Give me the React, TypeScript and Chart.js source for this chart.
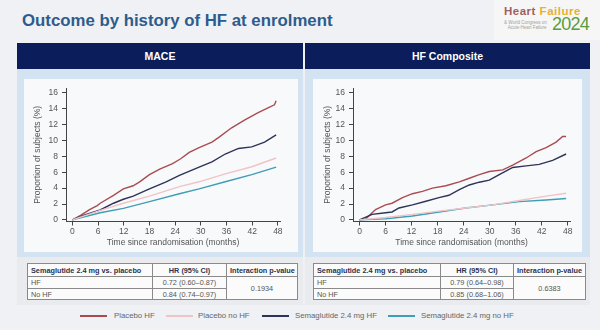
import React, { useEffect, useRef } from "react";
import { Chart, registerables } from "chart.js";

Chart.register(...registerables);

// ---------- DATA ----------
const xTicks = [0, 6, 12, 18, 24, 30, 36, 42, 48];
const yTicks = [0, 2, 4, 6, 8, 10, 12, 14, 16];

const seriesNames = ["Placebo HF", "Placebo no HF", "Semaglutide 2.4 mg HF", "Semaglutide 2.4 mg no HF"];

// MACE
const maceMonthsPlaceboHF = [0, 2, 4, 5.8, 6.5, 9.6, 11.9, 14.2, 15.7, 18, 20.4, 23.4, 25.3, 27.3, 29.6, 32.6, 34.2, 37.2, 40.3, 43.4, 45.7, 47.2, 47.6];
const macePlaceboHF = [0, 0.6, 1.3, 1.8, 2.1, 3.1, 3.9, 4.3, 4.8, 5.7, 6.4, 7.1, 7.7, 8.5, 9.1, 9.8, 10.4, 11.6, 12.6, 13.5, 14.1, 14.5, 15.0];
const maceMonthsSemaHF = [0, 2.7, 6.5, 9.6, 11.9, 14.2, 18, 21.9, 25, 29.6, 32.6, 35.7, 38.8, 41.9, 44.9, 47.6];
const maceSemaHF = [0, 0.6, 1.25, 2.1, 2.6, 3.0, 3.9, 4.8, 5.6, 6.65, 7.3, 8.3, 9.0, 9.2, 9.8, 10.7];
const maceMonthsNoHF = [0, 6.5, 11.9, 18, 25, 29.6, 35.7, 41.9, 47.6];
const macePlaceboNoHF = [0, 1.2, 2.1, 3.0, 4.2, 4.8, 5.8, 6.7, 7.8];
const maceSemaNoHF = [0, 0.9, 1.45, 2.3, 3.3, 3.9, 4.8, 5.7, 6.65];

// HF composite
const hfMonthsPlaceboHF = [0, 1.4, 3.7, 6, 7.5, 9.9, 12.2, 14.5, 16.8, 19.9, 23, 25.3, 27.6, 29.9, 33, 35.3, 38.4, 40.7, 43, 45.3, 46.8, 47.6];
const hfPlaceboHF = [0, 0.1, 1.3, 1.9, 2.1, 2.8, 3.3, 3.6, 4.0, 4.3, 4.8, 5.25, 5.7, 6.1, 6.3, 6.9, 7.8, 8.6, 9.1, 9.8, 10.5, 10.5];
const hfMonthsSemaHF = [0, 2.9, 6, 7.5, 9.1, 12.2, 15.3, 18.3, 20.6, 23, 25.3, 27.6, 29.9, 32.2, 35.3, 38.4, 41.4, 44.5, 47.6];
const hfSemaHF = [0, 0.7, 0.9, 1.0, 1.5, 1.9, 2.35, 2.8, 3.1, 3.8, 4.4, 4.75, 5.0, 5.7, 6.6, 6.8, 7.0, 7.5, 8.3];
const hfMonthsNoHF = [0, 6, 12.2, 18.3, 24.5, 30.7, 36.8, 43, 47.6];
const hfPlaceboNoHF = [0, 0.3, 0.7, 1.1, 1.5, 1.9, 2.45, 3.0, 3.35];
const hfSemaNoHF = [0, 0.15, 0.5, 1.0, 1.5, 1.9, 2.3, 2.5, 2.7];

// Tables
const tableHeaders = ["Semaglutide 2.4 mg vs. placebo", "HR (95% CI)", "Interaction p-value"];
const rowLabels = ["HF", "No HF"];
const maceHR = ["0.72 (0.60\u20130.87)", "0.84 (0.74\u20130.97)"];
const maceP = "0.1934";
const hfHR = ["0.79 (0.64\u20130.98)", "0.85 (0.68\u20131.06)"];
const hfP = "0.6383";

// ---------- STYLE ----------
const COLORS = ["#a94c52", "#efc4c6", "#2e3358", "#3f9db6"];
const FONT = "'Liberation Sans', Arial, sans-serif";

const pts = (xs: number[], ys: number[]) => xs.map((x, i) => ({ x, y: ys[i] }));

function makeConfig(
  sets: { x: number[]; y: number[] }[],
  yWidth: number,
  rightPad: number,
  yTitlePad: number
): any {
  const order = [1, 3, 2, 0];
  return {
    type: "line",
    data: {
      datasets: order.map((i) => ({
        label: seriesNames[i],
        data: pts(sets[i].x, sets[i].y),
        borderColor: COLORS[i],
        backgroundColor: COLORS[i],
        borderWidth: 1.4,
        pointRadius: 0,
        tension: 0,
        fill: false,
      })),
    },
    options: {
      animation: false,
      responsive: false,
      devicePixelRatio: 1,
      layout: { padding: { top: 7.7, right: rightPad, left: 0, bottom: 0 } },
      plugins: { legend: { display: false }, tooltip: { enabled: false } },
      scales: {
        x: {
          type: "linear",
          min: -1.5,
          max: 48.5,
          afterBuildTicks: (s: any) => {
            s.ticks = xTicks.map((v) => ({ value: v }));
          },
          afterFit: (s: any) => {
            s.height = 30.5;
          },
          grid: { display: true, drawOnChartArea: false, drawTicks: true, tickLength: 4, color: "#444" },
          border: { display: true, color: "#444", width: 1 },
          ticks: { color: "#555", font: { family: FONT, size: 8.5 }, padding: 1, maxRotation: 0 },
          title: {
            display: true,
            text: "Time since randomisation (months)",
            color: "#555",
            font: { family: FONT, size: 8.5 },
            padding: { top: 0, bottom: 4 },
          },
        },
        y: {
          type: "linear",
          min: -0.2,
          max: 16.6,
          afterBuildTicks: (s: any) => {
            s.ticks = yTicks.map((v) => ({ value: v }));
          },
          afterFit: (s: any) => {
            s.width = yWidth;
          },
          grid: { display: true, drawOnChartArea: false, drawTicks: true, tickLength: 4, color: "#444" },
          border: { display: true, color: "#444", width: 1 },
          ticks: { color: "#555", font: { family: FONT, size: 8.5 }, padding: 4 },
          title: {
            display: true,
            text: "Proportion of subjects (%)",
            color: "#555",
            font: { family: FONT, size: 8.5 },
            padding: { top: yTitlePad, bottom: 0 },
          },
        },
      },
    },
  };
}

function KMChart(props: { sets: { x: number[]; y: number[] }[]; w: number; h: number; yWidth: number; rightPad: number; yTitlePad: number }) {
  const ref = useRef<HTMLCanvasElement>(null);
  useEffect(() => {
    if (!ref.current) return;
    const chart = new Chart(ref.current, makeConfig(props.sets, props.yWidth, props.rightPad, props.yTitlePad));
    return () => chart.destroy();
  }, []);
  return <canvas ref={ref} width={props.w} height={props.h} style={{ width: props.w, height: props.h, display: "block" }} />;
}

function HRTable(props: { left: number; widths: number[]; hr: string[]; p: string }) {
  const { left, widths, hr, p } = props;
  const cell: React.CSSProperties = {
    border: "1px solid #8a8a8a",
    padding: "0 3px",
    fontSize: 7.3,
    color: "#555",
    whiteSpace: "nowrap",
    background: "#fbfbfc",
  };
  return (
    <table
      style={{
        position: "absolute",
        left,
        top: 263,
        borderCollapse: "collapse",
        tableLayout: "fixed",
        width: widths.reduce((a, b) => a + b, 0),
        fontFamily: FONT,
        border: "1.5px solid #7a7a7a",
      }}
    >
      <colgroup>
        {widths.map((w, i) => (
          <col key={i} style={{ width: w }} />
        ))}
      </colgroup>
      <tbody>
        <tr style={{ height: 13 }}>
          {tableHeaders.map((t, i) => (
            <td key={i} style={{ ...cell, fontWeight: "bold", color: "#2a3350", textAlign: i === 0 ? "left" : "center" }}>
              {t}
            </td>
          ))}
        </tr>
        <tr style={{ height: 12 }}>
          <td style={cell}>{rowLabels[0]}</td>
          <td style={{ ...cell, textAlign: "center" }}>{hr[0]}</td>
          <td rowSpan={2} style={{ ...cell, textAlign: "center" }}>
            {p}
          </td>
        </tr>
        <tr style={{ height: 11 }}>
          <td style={cell}>{rowLabels[1]}</td>
          <td style={{ ...cell, textAlign: "center" }}>{hr[1]}</td>
        </tr>
      </tbody>
    </table>
  );
}

function Panel(props: { left: number; width: number; title: string }) {
  const { left, width, title } = props;
  return (
    <>
      <div
        style={{
          position: "absolute",
          left,
          top: 43,
          width,
          height: 26,
          background: "#0b1e5b",
          color: "#fff",
          fontWeight: "bold",
          fontSize: 10.5,
          lineHeight: "26px",
          textAlign: "center",
          fontFamily: FONT,
        }}
      >
        {title}
      </div>
      <div style={{ position: "absolute", left, top: 69, width, height: 188, background: "#d4e3f1" }} />
      <div style={{ position: "absolute", left, top: 257, width, height: 48, background: "#e9ebee" }} />
    </>
  );
}

export default function App() {
  const maceSets = [
    { x: maceMonthsPlaceboHF, y: macePlaceboHF },
    { x: maceMonthsNoHF, y: macePlaceboNoHF },
    { x: maceMonthsSemaHF, y: maceSemaHF },
    { x: maceMonthsNoHF, y: maceSemaNoHF },
  ];
  const hfSets = [
    { x: hfMonthsPlaceboHF, y: hfPlaceboHF },
    { x: hfMonthsNoHF, y: hfPlaceboNoHF },
    { x: hfMonthsSemaHF, y: hfSemaHF },
    { x: hfMonthsNoHF, y: hfSemaNoHF },
  ];
  const legendPos = [
    { line: 80, text: 114 },
    { line: 166, text: 198 },
    { line: 262, text: 295 },
    { line: 388, text: 421 },
  ];
  return (
    <div
      style={{
        position: "fixed",
        left: 0,
        top: 0,
        width: 600,
        height: 330,
        background: "#eff1f4",
        overflow: "hidden",
        fontFamily: FONT,
      }}
    >
      <div style={{ position: "absolute", left: 22, top: 11, fontSize: 16.8, fontWeight: "bold", color: "#2d5c8d", whiteSpace: "nowrap" }}>
        Outcome by history of HF at enrolment
      </div>
      {/* logo */}
      <div style={{ position: "absolute", left: 494, top: 0, width: 106, height: 40, background: "#f6f6f6" }} />
      <div style={{ position: "absolute", left: 504, top: 5, fontSize: 11.5, fontWeight: "bold", whiteSpace: "nowrap", letterSpacing: 0.5, lineHeight: "13px" }}>
        <span style={{ color: "#a0605f" }}>Heart </span>
        <span style={{ color: "#e6b031" }}>Failure</span>
      </div>
      <div style={{ position: "absolute", left: 504, top: 20, fontSize: 4.5, color: "#a0a0a0", lineHeight: "5px", whiteSpace: "nowrap" }}>
        <div>&amp; World Congress on</div>
        <div>&nbsp;&nbsp;&nbsp;Acute Heart Failure</div>
      </div>
      <div style={{ position: "absolute", left: 552, top: 14, fontSize: 18, color: "#5b9d3d", whiteSpace: "nowrap", letterSpacing: -0.8, lineHeight: "20px" }}>2024</div>

      <Panel left={17} width={286} title="MACE" />
      <Panel left={305} width={285} title="HF Composite" />

      <div style={{ position: "absolute", left: 24, top: 79, width: 274, height: 173, background: "#f8f9fb" }}>
        <KMChart sets={maceSets} w={274} h={173} yWidth={42} rightPad={18} yTitlePad={9} />
      </div>
      <div style={{ position: "absolute", left: 313, top: 79, width: 269, height: 173, background: "#f8f9fb" }}>
        <KMChart sets={hfSets} w={269} h={173} yWidth={40} rightPad={12} yTitlePad={10} />
      </div>

      <HRTable left={27} widths={[125, 74, 71]} hr={maceHR} p={maceP} />
      <HRTable left={313} widths={[127, 73, 72]} hr={hfHR} p={hfP} />

      {seriesNames.map((n, i) => (
        <React.Fragment key={n}>
          <div style={{ position: "absolute", left: legendPos[i].line, top: 315, width: 27, height: 1.5, background: COLORS[i] }} />
          <div style={{ position: "absolute", left: legendPos[i].text, top: 311, fontSize: 7.8, color: "#666", whiteSpace: "nowrap" }}>{n}</div>
        </React.Fragment>
      ))}
    </div>
  );
}
